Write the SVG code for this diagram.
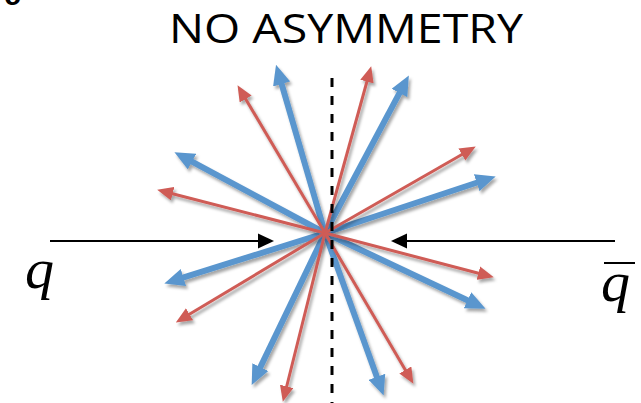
<svg xmlns="http://www.w3.org/2000/svg" width="641" height="403" viewBox="0 0 641 403">
<defs>
<style>
.blue{stroke:#5A96CE;stroke-width:6;fill:none;marker-end:url(#hb)}
.red{stroke:#CF5C56;stroke-width:3;fill:none;marker-end:url(#hr)}
.blk{stroke:#000;stroke-width:2;fill:none}
.title{font-family:"Open Sans","Liberation Sans",sans-serif;font-size:41px;fill:#000}
.q{font-family:"Liberation Serif","Times New Roman",serif;font-style:italic;font-size:58px;fill:#000}
</style>
<marker id="hb" markerUnits="userSpaceOnUse" markerWidth="20" markerHeight="18" viewBox="0 0 18 16" refX="2" refY="8" orient="auto">
<path d="M0,0 L18,8 L0,16 z" fill="#5A96CE"/>
</marker>
<marker id="hr" markerUnits="userSpaceOnUse" markerWidth="16" markerHeight="14" viewBox="0 0 15 13" refX="2" refY="6.5" orient="auto">
<path d="M0,0 L15,6.5 L0,13 z" fill="#CF5C56"/>
</marker>
<filter id="sh" x="-10%" y="-10%" width="120%" height="120%">
<feDropShadow dx="2" dy="3" stdDeviation="1.5" flood-color="#000" flood-opacity="0.35"/>
</filter>
</defs>
<rect width="641" height="403" fill="#fff"/>
<text x="4" y="5" style="font-family:'Liberation Sans',sans-serif;font-weight:bold;font-size:30px">c</text>
<g id="title"><text class="title" x="169" y="43" textLength="354" lengthAdjust="spacingAndGlyphs">NO ASYMMETRY</text></g>
<g id="connectors">
<g id="blue-arrows" filter="url(#sh)">
<line class="blue" x1="325" y1="233" x2="281.0" y2="81.9"/>
<line class="blue" x1="325" y1="233" x2="400.5" y2="91.1"/>
<line class="blue" x1="325" y1="233" x2="190.1" y2="160.6"/>
<line class="blue" x1="325" y1="233" x2="478.8" y2="182.0"/>
<line class="blue" x1="325" y1="233" x2="181.3" y2="278.2"/>
<line class="blue" x1="325" y1="233" x2="469.5" y2="301.2"/>
<line class="blue" x1="325" y1="233" x2="259.4" y2="369.1"/>
<line class="blue" x1="325" y1="233" x2="377.6" y2="378.9"/>
</g>
<g id="red-arrows" filter="url(#sh)">
<line class="red" x1="325" y1="233" x2="244.6" y2="97.2"/>
<line class="red" x1="325" y1="233" x2="367.5" y2="79.5"/>
<line class="red" x1="325" y1="233" x2="170.6" y2="193.2"/>
<line class="red" x1="325" y1="233" x2="463.7" y2="153.5"/>
<line class="red" x1="325" y1="233" x2="187.7" y2="315.3"/>
<line class="red" x1="325" y1="233" x2="480.4" y2="273.7"/>
<line class="red" x1="325" y1="233" x2="286.2" y2="388.4"/>
<line class="red" x1="325" y1="233" x2="406.4" y2="371.8"/>
</g>
<g id="incoming">
<line class="blk" x1="50" y1="241" x2="259" y2="241"/>
<path d="M258,233.5 L274,241 L258,248.5 z" fill="#000"/>
<line class="blk" x1="615" y1="241" x2="406" y2="241"/>
<path d="M407,233.5 L391,241 L407,248.5 z" fill="#000"/>
</g>
<line id="axis" x1="332" y1="78" x2="332" y2="403" stroke="#000" stroke-width="3" stroke-dasharray="9 9"/>
</g>
<g id="q"><text class="q" x="25" y="288">q</text></g>
<g id="qbar"><text class="q" x="601" y="301">q</text><line x1="604" y1="263" x2="635" y2="263" stroke="#000" stroke-width="2"/></g>
</svg>
